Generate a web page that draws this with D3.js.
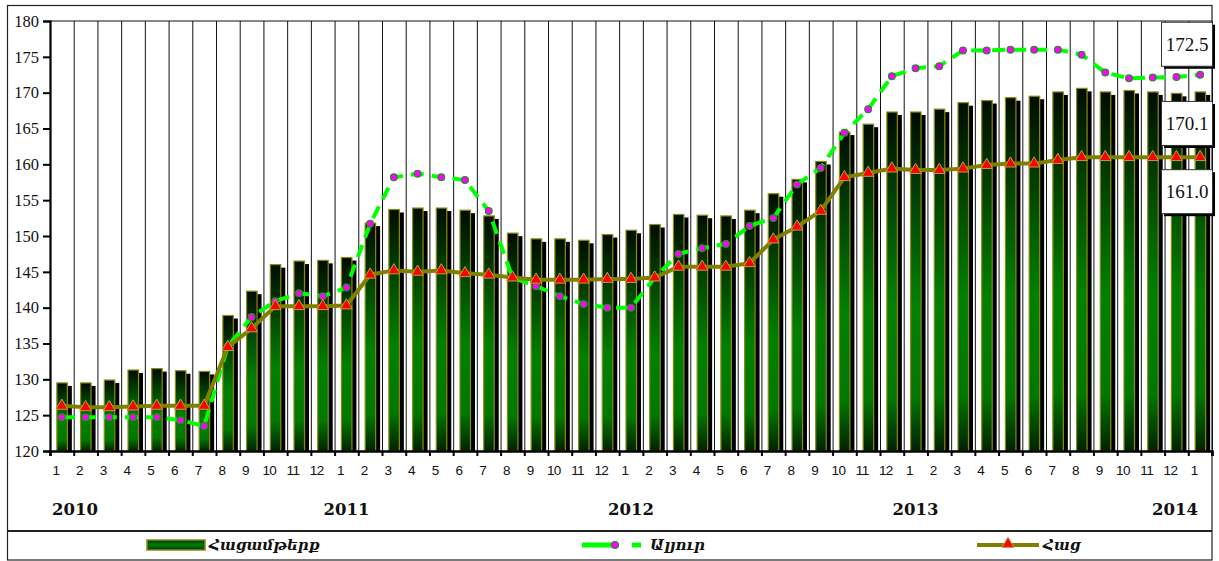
<!DOCTYPE html>
<html>
<head>
<meta charset="utf-8">
<script src="https://cdn.jsdelivr.net/npm/d3@7"></script>
<style>
  body { margin: 0; background: #fff; }
  svg { display: block; }
</style>
</head>
<body>
<div class="chart-wrapper"></div>
<script>
// month labels Jan 2010 .. Jan 2014
var monthLabels = [];
for (var yr = 0; yr < 4; yr++) {
  for (var m = 1; m <= 12; m++) monthLabels.push(String(m));
}
monthLabels.push("1");

var yearLabels = ["2010", "2011", "2012", "2013", "2014"];
var yTicks = [120, 125, 130, 135, 140, 145, 150, 155, 160, 165, 170, 175, 180];

// Հացամթերք (bars)
var bakery = [129.5, 129.5, 129.9, 131.3, 131.5, 131.2, 131.1, 138.9, 142.3, 146.0, 146.5, 146.6, 147.0,
  151.8, 153.7, 153.9, 153.9, 153.6, 152.8, 150.4, 149.6, 149.6, 149.4, 150.2, 150.8,
  151.6, 153.0, 152.9, 152.8, 153.6, 155.9, 157.9, 160.4, 164.5, 165.6, 167.3,
  167.3, 167.7, 168.6, 168.9, 169.3, 169.5, 170.1, 170.6, 170.1, 170.3, 170.1, 169.9, 170.1];

// Ալյուր (dashed line, circles)
var flour = [124.7, 124.7, 124.7, 124.7, 124.7, 124.3, 123.5, 134.6, 138.7, 140.9, 142.0, 141.6, 142.8,
  151.7, 158.2, 158.7, 158.2, 157.8, 153.5, 144.2, 143.0, 141.6, 140.5, 140.0, 140.0,
  144.2, 147.5, 148.3, 148.9, 151.4, 152.5, 157.2, 159.5, 164.4, 167.7, 172.3,
  173.4, 173.7, 175.9, 175.9, 176.0, 176.0, 176.0, 175.3, 172.8, 172.0, 172.1, 172.2, 172.5];

// Հաց (line, triangles)
var bread = [126.3, 126.1, 126.1, 126.2, 126.3, 126.3, 126.3, 134.5, 137.1, 140.2, 140.2, 140.2, 140.3,
  144.6, 145.2, 145.0, 145.2, 144.8, 144.6, 144.2, 143.9, 143.9, 143.9, 144.0, 144.0,
  144.2, 145.7, 145.7, 145.7, 146.2, 149.5, 151.3, 153.5, 158.2, 158.8, 159.4,
  159.2, 159.2, 159.4, 159.9, 160.1, 160.1, 160.6, 161.0, 161.0, 161.0, 161.0, 161.0, 161.0];

var seriesNames = ["Հացամթերք", "Ալյուր", "Հաց"];

var chartW = 1219, chartH = 561;
var plotL = 50, plotR = 1212, plotT = 21, plotB = 451;
var n = bakery.length;

var svg = d3.select(".chart-wrapper").append("svg")
  .attr("width", chartW).attr("height", chartH);

var defs = svg.append("defs");
var barGrad = defs.append("linearGradient").attr("id", "barGrad")
  .attr("x1", 0).attr("y1", 0).attr("x2", 0).attr("y2", 1);
barGrad.append("stop").attr("offset", "0%").attr("stop-color", "#000c00");
barGrad.append("stop").attr("offset", "38%").attr("stop-color", "#005c00");
barGrad.append("stop").attr("offset", "56%").attr("stop-color", "#008000");
barGrad.append("stop").attr("offset", "84%").attr("stop-color", "#007800");
barGrad.append("stop").attr("offset", "100%").attr("stop-color", "#002200");

var swatchGrad = defs.append("linearGradient").attr("id", "swatchGrad")
  .attr("x1", 0).attr("y1", 0).attr("x2", 0).attr("y2", 1);
swatchGrad.append("stop").attr("offset", "0%").attr("stop-color", "#003300");
swatchGrad.append("stop").attr("offset", "50%").attr("stop-color", "#008000");
swatchGrad.append("stop").attr("offset", "100%").attr("stop-color", "#003300");

var x = d3.scaleBand().domain(d3.range(n)).range([plotL, plotR]).paddingInner(0).paddingOuter(0);
var xb = d3.scaleLinear().domain([0, n]).range([plotL, plotR]);
var y = d3.scaleLinear().domain([120, 180]).range([plotB, plotT]);
var cx = function(i) { return x(i) + x.bandwidth() / 2; };

// outer frame + legend separator
svg.append("rect").attr("x", 7.5).attr("y", 5.5).attr("width", plotR - 7.5).attr("height", 554.5)
  .attr("fill", "none").attr("stroke", "#222").attr("stroke-width", 1.2);
svg.append("line").attr("x1", 7).attr("x2", plotR).attr("y1", 531).attr("y2", 531)
  .attr("stroke", "#222").attr("stroke-width", 2);

// vertical gridlines at category boundaries
var grid = svg.append("g").attr("transform", "translate(0," + plotB + ")")
  .call(d3.axisBottom(xb).tickValues(d3.range(1, n + 1)).tickSize(-(plotB - plotT)).tickFormat(""));
grid.select(".domain").remove();
grid.selectAll("line").attr("stroke", "#111").attr("stroke-width", 1);
svg.append("line").attr("x1", plotL).attr("x2", plotR).attr("y1", y(180)).attr("y2", y(180))
  .attr("stroke", "#111").attr("stroke-width", 1);

// bars with shadow
var barG = svg.append("g");
barG.selectAll("rect.shadow").data(bakery).enter().append("rect")
  .attr("class", "shadow")
  .attr("x", function(d, i) { return cx(i) - 1; })
  .attr("y", function(d) { return y(d) + 3; })
  .attr("width", 11)
  .attr("height", function(d) { return plotB - y(d) - 3; })
  .attr("fill", "#000");
barG.selectAll("rect.bar").data(bakery).enter().append("rect")
  .attr("class", "bar")
  .attr("x", function(d, i) { return cx(i) - 5; })
  .attr("y", function(d) { return y(d); })
  .attr("width", 10.5)
  .attr("height", function(d) { return plotB - y(d); })
  .attr("fill", "url(#barGrad)")
  .attr("stroke", "#8a8a10").attr("stroke-width", 1.2);

// flour line
var line = d3.line().x(function(d, i) { return cx(i); }).y(function(d) { return y(d); });
svg.append("path").datum(flour).attr("d", line)
  .attr("fill", "none").attr("stroke", "#00ff00").attr("stroke-width", 4)
  .attr("stroke-dasharray", "13,8");
svg.selectAll("circle.flour").data(flour).enter().append("circle")
  .attr("class", "flour")
  .attr("cx", function(d, i) { return cx(i); })
  .attr("cy", function(d) { return y(d); })
  .attr("r", 3.4)
  .attr("fill", "#ff00ff").attr("stroke", "#2a8a2a").attr("stroke-width", 1.2);

// bread line
svg.append("path").datum(bread).attr("d", line)
  .attr("fill", "none").attr("stroke", "#808000").attr("stroke-width", 4);
var tri = d3.symbol().type(d3.symbolTriangle).size(60);
svg.selectAll("path.bread").data(bread).enter().append("path")
  .attr("class", "bread")
  .attr("d", tri)
  .attr("transform", function(d, i) { return "translate(" + cx(i) + "," + y(d) + ")"; })
  .attr("fill", "#ff0000").attr("stroke", "#b8a040").attr("stroke-width", 1);

// y axis
var yAxis = svg.append("g").attr("transform", "translate(" + plotL + ",0)")
  .call(d3.axisLeft(y).tickValues(yTicks).tickSize(7).tickPadding(4).tickFormat(d3.format("d")));
yAxis.select(".domain").attr("stroke", "#000").attr("stroke-width", 2.2);
yAxis.selectAll("line").attr("stroke", "#000").attr("stroke-width", 2);
yAxis.selectAll("text").attr("font-family", "'Liberation Serif', 'Times New Roman', serif")
  .attr("font-size", 16.5).attr("fill", "#111");

// x axis: ticks at boundaries
var xTicks = svg.append("g").attr("transform", "translate(0," + plotB + ")")
  .call(d3.axisBottom(xb).tickValues(d3.range(0, n + 1)).tickSize(5).tickFormat(""));
xTicks.select(".domain").attr("stroke", "#000").attr("stroke-width", 2.5);
xTicks.selectAll("line").attr("stroke", "#000").attr("stroke-width", 2);

// month labels
var xLabels = svg.append("g").attr("transform", "translate(0," + plotB + ")")
  .call(d3.axisBottom(x).tickSize(0).tickPadding(14).tickFormat(function(i) { return monthLabels[i]; }));
xLabels.select(".domain").remove();
xLabels.selectAll("text").attr("font-family", "'Liberation Sans', Arial, sans-serif")
  .attr("font-size", 13.5).attr("fill", "#111").attr("dx", -6).attr("letter-spacing", -0.6);

// year labels under each January
var janIdx = [];
monthLabels.forEach(function(d, i) { if (d === "1") janIdx.push(i); });
svg.selectAll("text.year").data(yearLabels).enter().append("text")
  .attr("class", "year")
  .attr("x", function(d, k) {
    if (k === 0) return plotL + 2;
    if (k === yearLabels.length - 1) return plotR - 14;
    return cx(janIdx[k]);
  })
  .attr("y", 515)
  .attr("text-anchor", function(d, k) { return k === 0 ? "start" : (k === yearLabels.length - 1 ? "end" : "middle"); })
  .attr("font-family", "'DejaVu Serif', serif").attr("font-weight", "bold")
  .attr("font-size", 16.5).attr("fill", "#111")
  .text(function(d) { return d; });

// value boxes for the last month
var fmt = d3.format(".1f");
var lastBoxes = [
  { v: flour[n - 1], dy: -31 },
  { v: bakery[n - 1], dy: 31 },
  { v: bread[n - 1], dy: 34 }
];
var boxG = svg.selectAll("g.vbox").data(lastBoxes).enter().append("g").attr("class", "vbox")
  .attr("transform", function(d) { return "translate(1161," + (y(d.v) + d.dy - 22) + ")"; });
boxG.append("rect").attr("x", 3).attr("y", 3).attr("width", 51).attr("height", 44).attr("fill", "#000");
boxG.append("rect").attr("x", 0.5).attr("y", 0.5).attr("width", 51).attr("height", 44)
  .attr("fill", "#fff").attr("stroke", "#333").attr("stroke-width", 1);
boxG.append("text").attr("x", 26).attr("y", 29).attr("text-anchor", "middle")
  .attr("font-family", "'Liberation Serif', 'Times New Roman', serif").attr("font-size", 19)
  .attr("fill", "#111")
  .text(function(d) { return fmt(d.v); });

// legend
var legY = 545;
var legFont = "'DejaVu Serif', serif";
var leg = svg.append("g");
leg.append("rect").attr("x", 147).attr("y", legY - 5).attr("width", 58).attr("height", 10)
  .attr("fill", "url(#swatchGrad)").attr("stroke", "#8a8a10").attr("stroke-width", 1.5);
leg.append("text").attr("x", 209).attr("y", legY + 5)
  .attr("font-family", legFont).attr("font-style", "italic").attr("font-weight", "bold")
  .attr("font-size", 15).attr("fill", "#111").text(seriesNames[0]);

leg.append("line").attr("x1", 582).attr("x2", 641).attr("y1", legY).attr("y2", legY)
  .attr("stroke", "#00ff00").attr("stroke-width", 5).attr("stroke-dasharray", "35,15,9");
leg.append("circle").attr("cx", 615).attr("cy", legY).attr("r", 3.5)
  .attr("fill", "#ff00ff").attr("stroke", "#2a8a2a").attr("stroke-width", 1.2);
leg.append("text").attr("x", 650).attr("y", legY + 5)
  .attr("font-family", legFont).attr("font-style", "italic").attr("font-weight", "bold")
  .attr("font-size", 15).attr("fill", "#111").text(seriesNames[1]);

leg.append("line").attr("x1", 977).attr("x2", 1039).attr("y1", legY).attr("y2", legY)
  .attr("stroke", "#808000").attr("stroke-width", 4);
leg.append("path").attr("d", tri).attr("transform", "translate(1008," + (legY - 1) + ")")
  .attr("fill", "#ff0000").attr("stroke", "#b8a040").attr("stroke-width", 1);
leg.append("text").attr("x", 1043).attr("y", legY + 5)
  .attr("font-family", legFont).attr("font-style", "italic").attr("font-weight", "bold")
  .attr("font-size", 15).attr("fill", "#111").text(seriesNames[2]);
</script>
</body>
</html>
